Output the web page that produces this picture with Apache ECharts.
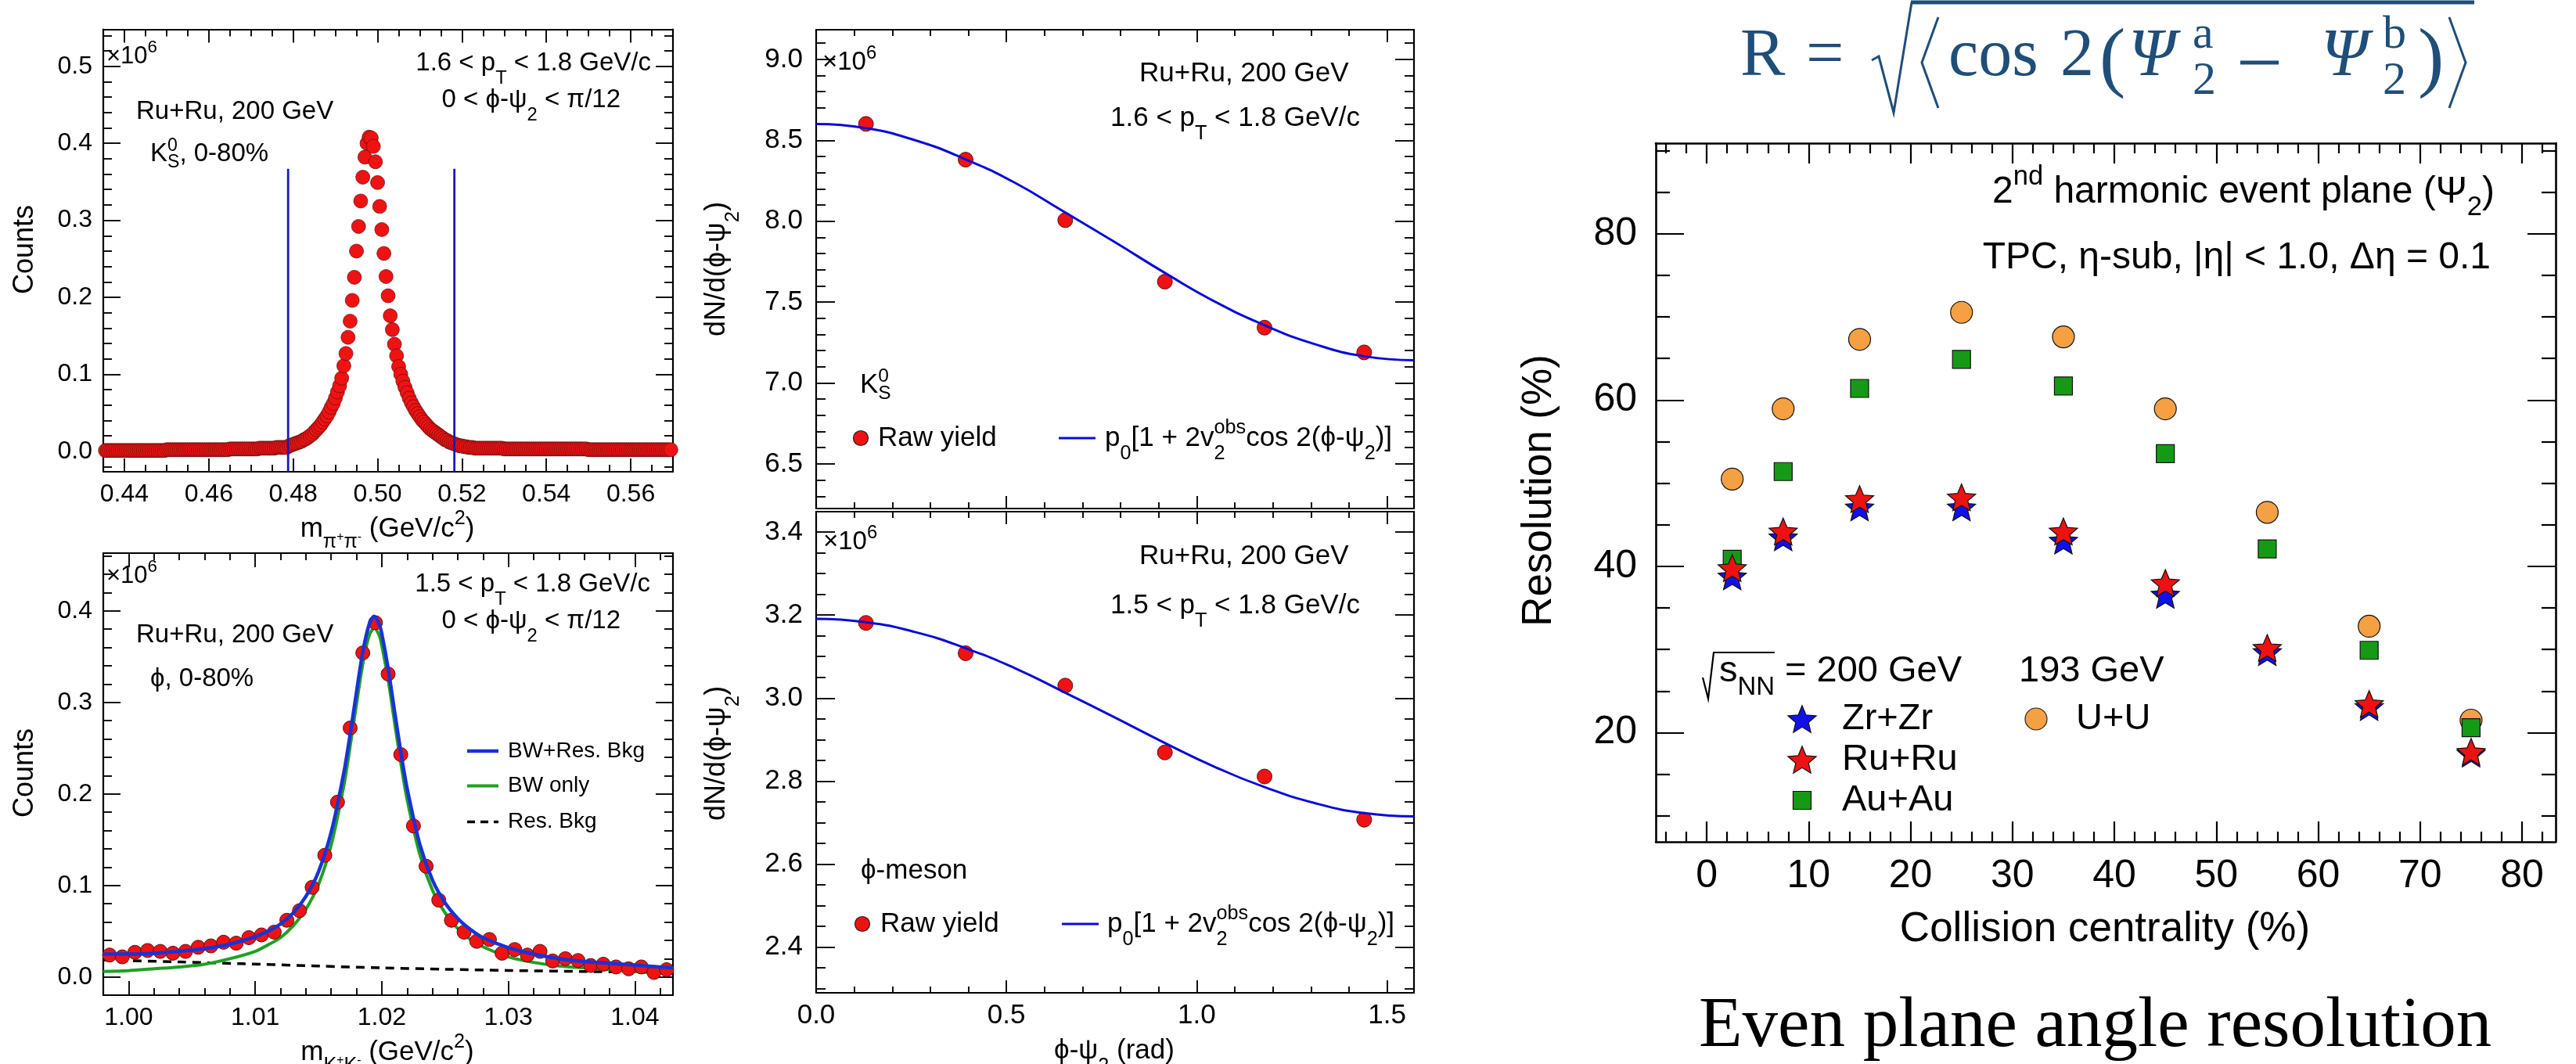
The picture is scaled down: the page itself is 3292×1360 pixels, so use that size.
<!DOCTYPE html>
<html><head><meta charset="utf-8"><title>STAR plots</title>
<script src="https://cdn.jsdelivr.net/npm/echarts@6/dist/echarts.min.js"></script>
<style>html,body{margin:0;padding:0;background:#fff;overflow:hidden}#chart{width:3292px;height:1360px}</style>
</head><body><div id="chart"></div>
<script>
// ================= DATA =================
// K0s invariant mass (top-left), bins of 0.5 MeV starting at 0.4355
const k0MassStart = 0.4355, k0BinWidth = 0.0005;
const k0Counts = [
  0.001,0.001,0.001,0.001,0.001,0.001,0.001,0.001,0.001,0.001,
  0.001,0.001,0.001,0.001,0.001,0.001,0.001,0.001,0.001,0.001,
  0.001,0.001,0.001,0.001,0.001,0.001,0.001,0.001,0.001,
  0.002,0.002,0.002,0.002,0.002,0.002,0.002,0.002,0.002,0.002,
  0.002,0.002,0.002,0.002,0.002,0.002,0.002,0.002,0.002,0.002,
  0.002,0.002,0.002,0.002,0.002,0.002,0.002,0.002,0.002,0.002,
  0.003,0.003,0.003,0.003,0.003,0.003,0.003,0.003,0.003,0.003,0.003,0.003,0.003,0.003,
  0.004,0.004,0.004,0.004,0.004,0.004,0.004,0.004,
  0.005,0.005,0.005,0.005,0.005,0.005,
  0.007,0.008,0.009,0.010,0.011,0.012,0.013,0.015,0.016,0.018,
  0.020,0.022,0.025,0.028,0.031,0.034,0.038,0.042,0.046,0.051,
  0.057,0.062,0.069,0.077,0.085,0.095,0.111,0.127,0.148,0.169,
  0.196,0.226,0.260,0.292,0.325,0.356,0.382,0.400,0.408,0.407,
  0.396,0.376,0.349,0.318,0.288,0.257,0.227,0.202,0.176,0.158,
  0.139,0.124,0.110,0.100,0.091,0.083,0.076,0.069,0.063,0.058,
  0.053,0.049,0.045,0.041,0.038,0.035,0.032,0.029,0.027,0.025,
  0.023,0.021,0.019,0.017,0.015,0.014,0.012,0.011,0.010,0.009,
  0.008,0.007,0.007,0.006,0.006,0.005,0.005,0.005,
  0.004,0.004,0.004,0.004,0.004,0.004,0.004,0.004,0.004,0.004,0.004,0.004,0.004,0.004,
  0.003,0.003,0.003,0.003,0.003,0.003,0.003,0.003,0.003,0.003,
  0.003,0.003,0.003,0.003,0.003,0.003,0.003,0.003,0.003,0.003,
  0.003,0.003,0.003,0.003,0.003,0.003,0.003,0.003,0.003,0.003,
  0.003,0.003,0.003,0.003,0.003,0.003,0.003,0.003,0.003,0.003,
  0.002,0.002,0.002,0.002,0.002,0.002,0.002,0.002,0.002,0.002,
  0.002,0.002,0.002,0.002,0.002,0.002,0.002,0.002,0.002,0.002,
  0.002,0.002,0.002,0.002,0.002,0.002,0.002,0.002,0.002,0.002,
  0.002,0.002,0.002,0.002,0.002,0.002,0.002,0.002,0.002,0.002
];
const k0CutMass = [0.4788, 0.5182];
const k0CutTop = 0.367;

// phi invariant mass (bottom-left), bins of 1 MeV starting at 0.9985
const phiMassStart = 0.9985, phiBinWidth = 0.001;
const phiCounts = [0.024,0.022,0.027,0.029,0.028,0.026,0.028,0.0325,0.034,0.038,
  0.037,0.043,0.046,0.049,0.062,0.0725,0.098,0.133,0.191,0.272,
  0.354,0.387,0.331,0.243,0.165,0.121,0.084,0.062,0.049,0.039,
  0.041,0.026,0.030,0.024,0.028,0.0175,0.020,0.018,0.0126,0.014,
  0.011,0.009,0.011,0.005,0.008];
const phiFitMass = [0.998,1.000,1.002,1.004,1.006,1.008,1.010,1.011,1.012,1.013,1.014,1.015,1.016,1.017,1.0175,1.018,1.0185,1.019,1.0194,1.0198,1.020,1.0205,1.021,1.0215,1.022,1.023,1.024,1.025,1.026,1.027,1.028,1.030,1.032,1.034,1.036,1.038,1.040,1.043];
const phiFitTotal = [0.025,0.025,0.026,0.028,0.031,0.036,0.044,0.050,0.058,0.070,0.088,0.115,0.158,0.223,0.265,0.311,0.355,0.385,0.394,0.385,0.375,0.337,0.291,0.246,0.206,0.145,0.106,0.081,0.064,0.052,0.043,0.032,0.025,0.020,0.017,0.015,0.013,0.010];
const phiFitBW = [0.006,0.007,0.009,0.011,0.014,0.020,0.028,0.035,0.043,0.056,0.074,0.101,0.144,0.209,0.252,0.298,0.342,0.373,0.381,0.373,0.362,0.325,0.279,0.234,0.194,0.134,0.095,0.070,0.053,0.041,0.033,0.022,0.016,0.012,0.010,0.008,0.006,0.005];
const phiBkgMass = [0.998,1.004,1.009,1.015,1.020,1.025,1.030,1.036,1.043];
const phiBkg = [0.0186,0.0165,0.0145,0.0120,0.0100,0.0085,0.0072,0.0060,0.0048];

// dN/d(phi-psi2) (middle)
const dphiCenters = [0.1309,0.3927,0.6545,0.9163,1.1781,1.4399];
const k0Yield = [8.601,8.380,8.006,7.626,7.342,7.189];
const phiYield = [3.181,3.108,3.030,2.869,2.811,2.707];
const fitDphi = [0,0.13,0.26,0.39,0.52,0.65,0.785,0.92,1.05,1.18,1.31,1.44,1.5708];
const k0Fit = [8.600,8.575,8.500,8.385,8.240,8.060,7.870,7.675,7.500,7.355,7.240,7.165,7.140];
const phiFit = [3.191,3.183,3.159,3.121,3.073,3.015,2.953,2.890,2.833,2.785,2.747,2.723,2.715];

// Event plane resolution (right)
const centrality = [2.5,7.5,15,25,35,45,55,65,75];
const resZrZr = [38.8,43.5,47.1,47.1,43.1,36.6,29.7,23.1,17.5];
const resRuRu = [39.8,44.2,48.1,48.3,44.2,38.0,30.2,23.45,17.7];
const resAuAu = [40.85,51.4,61.4,64.9,61.7,53.55,42.1,29.9,20.6];
const resUU = [50.5,58.95,67.3,70.55,67.6,58.95,46.5,32.8,21.5];

// Tick labels
const tlXTicks = [0.44,0.46,0.48,0.50,0.52,0.54,0.56];
const tlYTicks = [0,0.1,0.2,0.3,0.4,0.5];
const blXTicks = [1.00,1.01,1.02,1.03,1.04];
const blYTicks = [0,0.1,0.2,0.3,0.4];
const midXTicks = [0,0.5,1.0,1.5];
const tmYTicks = [6.5,7.0,7.5,8.0,8.5,9.0];
const bmYTicks = [2.4,2.6,2.8,3.0,3.2,3.4];
const rXTicks = [0,10,20,30,40,50,60,70,80];
const rYTicks = [20,40,60,80];

// axis ranges
const tlYMin = -0.0266, blYMin = -0.0198;

// ================= HELPERS =================
const SANS = '"Liberation Sans", "DejaVu Sans", Arial, sans-serif';
const SERIF = '"Liberation Serif", "DejaVu Serif", "Times New Roman", serif';
const RED = '#f01212', EDGE = '#5a1010';
const grids = [], xAxes = [], yAxes = [], series = [], G = [];

function steps(lo, hi, st, major) {
  const out = [];
  for (let k = Math.ceil(lo / st - 1e-9); k <= Math.floor(hi / st + 1e-9); k++) {
    const v = +(k * st).toFixed(6);
    if (!major.some(m => Math.abs(m - v) < st / 10)) out.push(v);
  }
  return out;
}
function axis(gi, pos, s, ticks, len, lw, label, line) {
  return {
    type: 'value', gridIndex: gi, position: pos, min: s.lo, max: s.hi,
    axisLine: {show: line, onZero: false, lineStyle: {color: '#000', width: lw}},
    axisTick: {show: true, inside: true, length: len, customValues: ticks, lineStyle: {color: '#000', width: lw * 0.85}},
    axisLabel: label ? {show: true, customValues: s.major, formatter: v => s.fmt(v), fontSize: s.fs, fontFamily: SANS, color: '#000', margin: s.margin} : {show: false},
    splitLine: {show: false}, splitArea: {show: false}, minorTick: {show: false}, silent: true
  };
}
function panel(g, xs, ys, lw) {
  const gi = grids.length;
  grids.push({left: g[0], top: g[1], width: g[2], height: g[3], show: false});
  const xi = xAxes.length, yi = yAxes.length;
  const xm = steps(xs.lo, xs.hi, xs.step, xs.major), ym = steps(ys.lo, ys.hi, ys.step, ys.major);
  xAxes.push(axis(gi, 'bottom', xs, xs.major, xs.len[0], lw, xs.labels !== false, true));
  xAxes.push(axis(gi, 'bottom', xs, xm, xs.len[1], lw, false, false));
  xAxes.push(axis(gi, 'top', xs, xs.major, xs.len[0], lw, false, true));
  xAxes.push(axis(gi, 'top', xs, xm, xs.len[1], lw, false, false));
  yAxes.push(axis(gi, 'left', ys, ys.major, ys.len[0], lw, true, true));
  yAxes.push(axis(gi, 'left', ys, ym, ys.len[1], lw, false, false));
  yAxes.push(axis(gi, 'right', ys, ys.major, ys.len[0], lw, false, true));
  yAxes.push(axis(gi, 'right', ys, ym, ys.len[1], lw, false, false));
  return {x: xi, y: yi};
}

const mctx = document.createElement('canvas').getContext('2d');
function tw(t, size, fam, st) { mctx.font = (st || '') + ' ' + size + 'px ' + fam; return mctx.measureText(t).width; }
function norm(p) {
  if (typeof p === 'string') return {t: p, sf: 1, dy: 0};
  if (p[1] === 'sub') return {t: p[0], sf: 0.72, dy: 0.58};
  if (p[1] === 'sup') return {t: p[0], sf: 0.72, dy: -0.36};
  return {t: p[0], sf: p[1], dy: p[2]};
}
function T(parts, x, y, o) {
  o = o || {};
  const F = o.size || 33, fam = o.fam || SANS, col = o.color || '#000', st = o.style || '';
  const items = []; let cur = 0;
  parts.forEach(p0 => {
    if (p0 && p0.stack) {
      let w = 0;
      p0.stack.forEach(q0 => { const q = norm(q0); const s = F * q.sf; items.push({t: q.t, s, dx: cur, dy: q.dy * F}); w = Math.max(w, tw(q.t, s, fam, st)); });
      cur += w;
    } else {
      const q = norm(p0); const s = F * q.sf;
      items.push({t: q.t, s, dx: cur, dy: q.dy * F});
      cur += tw(q.t, s, fam, st);
    }
  });
  const off = o.align === 'right' ? -cur : o.align === 'center' ? -cur / 2 : 0;
  items.forEach(it => {
    const lx = it.dx + off, ly = it.dy;
    const sx = o.rot ? x + ly : x + lx, sy = o.rot ? y - lx : y + ly;
    G.push({type: 'text', x: sx, y: sy, rotation: o.rot ? Math.PI / 2 : 0, z: 100, silent: true,
      style: {text: it.t, fill: col, fontSize: it.s, fontFamily: fam, fontStyle: st.indexOf('italic') >= 0 ? 'italic' : 'normal', align: 'left', verticalAlign: 'middle'}});
  });
}
function circ(cx, cy, r, fill) { G.push({type: 'circle', z: 100, silent: true, shape: {cx, cy, r}, style: {fill, stroke: '#222', lineWidth: 1.2}}); }
function seg(x1, y1, x2, y2, stroke, w, dash) {
  const style = {stroke, lineWidth: w}; if (dash) style.lineDash = dash;
  G.push({type: 'line', z: 100, silent: true, shape: {x1, y1, x2, y2}, style});
}
function poly(points, stroke, w) { G.push({type: 'polyline', z: 100, silent: true, shape: {points}, style: {stroke, lineWidth: w, fill: null}}); }
function starPts(cx, cy, R) {
  const pts = [];
  for (let i = 0; i < 10; i++) { const r = i % 2 ? R * 0.45 : R; const a = -Math.PI / 2 + i * Math.PI / 5; pts.push([cx + r * Math.cos(a), cy + r * Math.sin(a)]); }
  return pts;
}
function star(cx, cy, R, fill) { G.push({type: 'polygon', z: 100, silent: true, shape: {points: starPts(cx, cy + 0.095 * R, R)}, style: {fill, stroke: '#111', lineWidth: 1.2}}); }
function box(cx, cy, s, fill) { G.push({type: 'rect', z: 100, silent: true, shape: {x: cx - s / 2, y: cy - s / 2, width: s, height: s}, style: {fill, stroke: '#111', lineWidth: 1.2}}); }
const starPath = 'path://' + starPts(50, 50, 50).map((p, i) => (i ? 'L' : 'M') + p[0].toFixed(2) + ',' + p[1].toFixed(2)).join('') + 'Z';

// ================= PANELS =================
const f1 = v => v.toFixed(1), f2 = v => v.toFixed(2), f0 = v => String(v);
const TL = panel([132, 37.5, 728, 565.5],
  {lo: 0.435, hi: 0.57, major: tlXTicks, step: 0.005, fmt: f2, fs: 32, margin: 13, len: [17, 9]},
  {lo: tlYMin, hi: 0.548, major: tlYTicks, step: 0.02, fmt: f1, fs: 32, margin: 14, len: [22, 11]}, 2.2);
const BL = panel([132, 707, 728, 565],
  {lo: 0.998, hi: 1.043, major: blXTicks, step: 0.002, fmt: f2, fs: 32, margin: 13, len: [18, 9]},
  {lo: blYMin, hi: 0.463, major: blYTicks, step: 0.02, fmt: f1, fs: 32, margin: 14, len: [22, 11]}, 2.2);
const TM = panel([1043, 38, 764, 612],
  {lo: 0, hi: 1.5708, major: midXTicks, step: 0.1, labels: false, fmt: f1, fs: 35, margin: 12, len: [16, 8]},
  {lo: 6.224, hi: 9.183, major: tmYTicks, step: 0.1, fmt: f1, fs: 35, margin: 17, len: [24, 12]}, 2.2);
const BM = panel([1043, 654, 764, 615],
  {lo: 0, hi: 1.5708, major: midXTicks, step: 0.1, fmt: f1, fs: 35, margin: 12, len: [16, 8]},
  {lo: 2.29, hi: 3.449, major: bmYTicks, step: 0.05, fmt: f1, fs: 35, margin: 17, len: [24, 12]}, 2.2);
const RP = panel([2116, 183, 1150, 893],
  {lo: -5, hi: 83.3, major: rXTicks, step: 2, fmt: f0, fs: 50, margin: 19, len: [26, 13]},
  {lo: 6.87, hi: 90.9, major: rYTicks, step: 5, fmt: f0, fs: 50, margin: 24, len: [36, 18]}, 2.6);

// ================= SERIES =================
const base = {silent: true, animation: false, emphasis: {disabled: true}};
const dot = {color: RED, borderColor: EDGE, borderWidth: 1, opacity: 1};
const bandDot = {color: RED, borderColor: EDGE, borderWidth: 0.7, opacity: 1};
const k0Data = k0Counts.map((c, i) => [+(k0MassStart + i * k0BinWidth).toFixed(4), c]);
series.push(Object.assign({type: 'scatter', name: 'K0S', xAxisIndex: TL.x, yAxisIndex: TL.y, data: k0Data, symbol: 'circle', symbolSize: 18,
  itemStyle: bandDot, z: 2}, base));
k0CutMass.forEach(m => series.push(Object.assign({type: 'line', xAxisIndex: TL.x, yAxisIndex: TL.y, data: [[m, tlYMin], [m, k0CutTop]],
  symbol: 'none', lineStyle: {color: '#1a1ab4', width: 2.8}, z: 4}, base)));

const phiData = phiCounts.map((c, i) => [+(phiMassStart + i * phiBinWidth).toFixed(4), c]);
series.push(Object.assign({type: 'line', name: 'Res. Bkg', xAxisIndex: BL.x, yAxisIndex: BL.y, data: phiBkgMass.map((m, i) => [m, phiBkg[i]]),
  symbol: 'none', smooth: 0.3, lineStyle: {color: '#000', width: 3.5, type: [11, 8]}, z: 2}, base));
series.push(Object.assign({type: 'line', name: 'BW only', xAxisIndex: BL.x, yAxisIndex: BL.y, data: phiFitMass.map((m, i) => [m, phiFitBW[i]]),
  symbol: 'none', smooth: 0.3, lineStyle: {color: '#20a020', width: 4}, z: 2}, base));
series.push(Object.assign({type: 'scatter', name: 'phi', xAxisIndex: BL.x, yAxisIndex: BL.y, data: phiData, symbol: 'circle', symbolSize: 18,
  itemStyle: dot, z: 3}, base));
series.push(Object.assign({type: 'line', name: 'BW+Res. Bkg', xAxisIndex: BL.x, yAxisIndex: BL.y, data: phiFitMass.map((m, i) => [m, phiFitTotal[i]]),
  symbol: 'none', smooth: 0.3, lineStyle: {color: '#1733d8', width: 4.5}, z: 4}, base));

[[TM, k0Yield, k0Fit], [BM, phiYield, phiFit]].forEach(([P, yv, fv]) => {
  series.push(Object.assign({type: 'scatter', xAxisIndex: P.x, yAxisIndex: P.y, data: dphiCenters.map((x, i) => [x, yv[i]]), symbol: 'circle', symbolSize: 19,
    itemStyle: dot, z: 3}, base));
  series.push(Object.assign({type: 'line', xAxisIndex: P.x, yAxisIndex: P.y, data: fitDphi.map((x, i) => [x, fv[i]]), symbol: 'none', smooth: true,
    lineStyle: {color: '#0a0ad8', width: 3}, z: 4}, base));
});

const rs = (name, vals, symbol, size, color, z) => Object.assign({type: 'scatter', name, xAxisIndex: RP.x, yAxisIndex: RP.y,
  data: centrality.map((c, i) => [c, vals[i]]), symbol, symbolSize: size, symbolKeepAspect: true,
  itemStyle: {color, borderColor: '#111', borderWidth: 1.2, opacity: 1}, z}, base);
series.push(rs('U+U', resUU, 'circle', 28, '#f6a044', 2));
series.push(rs('Au+Au', resAuAu, 'rect', 23, '#169a16', 3));
series.push(rs('Zr+Zr', resZrZr, starPath, 36, '#1010ee', 4));
series.push(rs('Ru+Ru', resRuRu, starPath, 36, '#ee1111', 5));

// ================= TEXT / DECORATION =================
const PHI = 'ϕ';
// top-left
T(['×10', ['6', 0.72, -0.35]], 136, 72, {size: 31});
T(['Ru+Ru, 200 GeV'], 174, 143, {size: 33});
T(['K', {stack: [['S', 0.7, 0.32], ['0', 0.7, -0.3]]}, ', 0-80%'], 192, 197, {size: 33});
T(['1.6 < p', ['T', 'sub'], ' < 1.8 GeV/c'], 832, 81, {size: 33, align: 'right'});
T(['0 < ' + PHI + '-ψ', ['2', 'sub'], ' < π/12'], 793, 128, {size: 33, align: 'right'});
T(['Counts'], 32, 319, {size: 36, rot: true, align: 'center'});
T(['m', ['π', 0.72, 0.5], ['+', 0.45, 0.3], ['π', 0.72, 0.5], ['-', 0.45, 0.3], ' (GeV/c', ['2', 'sup'], ')'], 495, 676, {size: 35, align: 'center'});
// bottom-left
T(['×10', ['6', 0.72, -0.35]], 136, 736, {size: 31});
T(['1.5 < p', ['T', 'sub'], ' < 1.8 GeV/c'], 831, 747, {size: 33, align: 'right'});
T(['0 < ' + PHI + '-ψ', ['2', 'sub'], ' < π/12'], 793, 794, {size: 33, align: 'right'});
T(['Ru+Ru, 200 GeV'], 174, 812, {size: 33});
T([PHI + ', 0-80%'], 192, 868, {size: 33});
seg(597, 960, 637, 960, '#1733d8', 4.5);
seg(597, 1004.6, 637, 1004.6, '#20a020', 4);
seg(597, 1050.6, 637, 1050.6, '#000', 3.5, [10, 7]);
T(['BW+Res. Bkg'], 649, 960, {size: 28});
T(['BW only'], 649, 1004.6, {size: 28});
T(['Res. Bkg'], 649, 1050.6, {size: 28});
T(['Counts'], 32, 988, {size: 36, rot: true, align: 'center'});
T(['m', ['K', 0.72, 0.5], ['+', 0.45, 0.3], ['K', 0.72, 0.5], ['-', 0.45, 0.3], ' (GeV/c', ['2', 'sup'], ')'], 495, 1345, {size: 35, align: 'center'});
// top-middle
const fitLabel = ['p', ['0', 'sub'], '[1 + 2v', {stack: [['2', 'sub'], ['obs', 'sup']]}, 'cos 2(' + PHI + '-ψ', ['2', 'sub'], ')]'];
T(['×10', ['6', 0.72, -0.35]], 1051, 80, {size: 33});
T(['Ru+Ru, 200 GeV'], 1456, 94, {size: 35});
T(['1.6 < p', ['T', 'sub'], ' < 1.8 GeV/c'], 1419, 151, {size: 35});
T(['K', {stack: [['S', 0.7, 0.32], ['0', 0.7, -0.3]]}], 1099, 492, {size: 35});
circ(1100, 560, 9.5, RED);
T(['Raw yield'], 1122, 560, {size: 35});
seg(1353, 560, 1400, 560, '#0a0ad8', 3);
T(fitLabel, 1412, 560, {size: 35});
T(['dN/d(' + PHI + '-ψ', ['2', 'sub'], ')'], 916, 344, {size: 36, rot: true, align: 'center'});
// bottom-middle
T(['×10', ['6', 0.72, -0.35]], 1052, 693, {size: 33});
T(['Ru+Ru, 200 GeV'], 1456, 711, {size: 35});
T(['1.5 < p', ['T', 'sub'], ' < 1.8 GeV/c'], 1419, 774, {size: 35});
T([PHI + '-meson'], 1100, 1113, {size: 35});
circ(1102, 1181, 9.5, RED);
T(['Raw yield'], 1125, 1181, {size: 35});
seg(1357, 1181, 1404, 1181, '#0a0ad8', 3);
T(fitLabel, 1415, 1181, {size: 35});
T(['dN/d(' + PHI + '-ψ', ['2', 'sub'], ')'], 916, 963, {size: 36, rot: true, align: 'center'});
T([PHI + '-ψ', ['2', 'sub'], ' (rad)'], 1424, 1343, {size: 35, align: 'center'});
// right panel
T(['2', ['nd', 0.72, -0.4], ' harmonic event plane (Ψ', ['2', 0.72, 0.4], ')'], 3188, 246, {size: 48, align: 'right'});
T(['TPC, η-sub, |η| < 1.0, Δη = 0.1'], 3183, 330, {size: 48, align: 'right'});
poly([[2176, 866], [2183, 893], [2190, 834], [2268, 834]], '#000', 2.2);
T(['s', ['NN', 0.7, 0.45], ' = 200 GeV'], 2197, 858, {size: 47});
T(['193 GeV'], 2580, 858, {size: 47});
star(2303, 919, 19, '#1010ee');
star(2303, 971, 19, '#ee1111');
box(2303, 1023, 23, '#169a16');
circ(2602, 919, 14, '#f6a044');
T(['Zr+Zr'], 2354, 919, {size: 47});
T(['Ru+Ru'], 2354, 971, {size: 47});
T(['Au+Au'], 2354, 1023, {size: 47});
T(['U+U'], 2653, 919, {size: 47});
T(['Resolution (%)'], 1967, 627, {size: 53, rot: true, align: 'center'});
T(['Collision centrality (%)'], 2690, 1188, {size: 53, align: 'center'});
// formula
const FC = '#1f4e79';
const fs = {size: 86, fam: SERIF, color: FC};
T(['R'], 2224, 73, fs);
T(['='], 2308, 73, fs);
poly([[2392, 77], [2401, 72], [2420, 144], [2443, 3]], FC, 3);
seg(2442, 3, 3162, 3, FC, 5);
poly([[2477, 22], [2456, 80], [2477, 138]], FC, 3);
T(['cos'], 2490, 73, fs);
T(['2'], 2633, 73, fs);
T(['('], 2683, 79, {size: 100, fam: SERIF, color: FC});
T(['Ψ'], 2720, 73, {size: 86, fam: SERIF, color: FC, style: 'italic'});
T(['a'], 2802, 45, {size: 60, fam: SERIF, color: FC});
T(['2'], 2802, 104, {size: 60, fam: SERIF, color: FC});
seg(2863, 80, 2912, 80, FC, 5);
T(['Ψ'], 2966, 73, {size: 86, fam: SERIF, color: FC, style: 'italic'});
T(['b'], 3045, 45, {size: 60, fam: SERIF, color: FC});
T(['2'], 3045, 104, {size: 60, fam: SERIF, color: FC});
T([')'], 3090, 79, {size: 100, fam: SERIF, color: FC});
poly([[3130, 22], [3151, 80], [3130, 138]], FC, 3);
// caption
T(['Even plane angle resolution'], 2171, 1313, {size: 91, fam: SERIF});

// ================= CHART =================
const chart = echarts.init(document.getElementById('chart'), null, {renderer: 'canvas'});
chart.setOption({
  animation: false, backgroundColor: '#fff',
  grid: grids, xAxis: xAxes, yAxis: yAxes, series: series,
  graphic: {elements: G}
});
</script></body></html>
